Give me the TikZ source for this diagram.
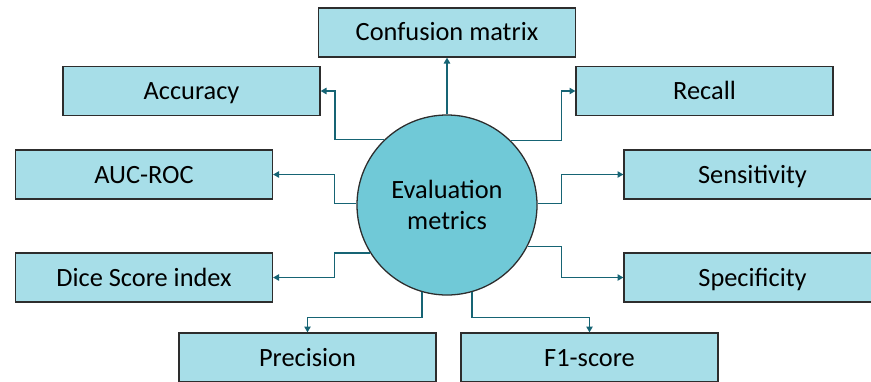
\documentclass[tikz,border=0pt]{standalone}
\usepackage[RGB]{xcolor}
\usepackage{fontspec}
\setmainfont{Carlito}
\usepackage{tikz}
\usetikzlibrary{arrows.meta}
\definecolor{boxfill}{RGB}{167,222,232}
\definecolor{ringfill}{RGB}{112,201,215}
\definecolor{edge}{RGB}{45,45,45}
\definecolor{link}{RGB}{22,100,116}
\tikzset{
  metricbox/.style={draw=edge, line width=1.1pt, fill=boxfill, minimum width=7.71cm,
    minimum height=1.47cm, inner sep=0pt, text height=16.5pt, text depth=2pt,
    font=\fontsize{22.5}{27}\selectfont},
  hub/.style={circle, draw=edge, line width=1.1pt, fill=ringfill, minimum size=5.4cm,
    inner sep=0pt, align=center, font=\fontsize{22.5}{27}\selectfont},
  conn/.style={draw=link, line width=1pt, -{Triangle[width=5.5pt,length=5pt]}}
}
\newcommand{\metric}[4]{\node[metricbox] (#1) at (#2,#3) {#4};}
\begin{document}
\begin{tikzpicture}[x=0.03cm,y=-0.03cm]
\useasboundingbox (0,0) rectangle (871,381);
\node[hub] (ev) at (447,205) {Evaluation\\metrics};
\metric{conf}{447}{32.5}{Confusion matrix}
\metric{acc}{191.5}{91}{Accuracy}
\metric{rec}{704.5}{91}{Recall}
\metric{auc}{144}{174.5}{AUC-ROC}
\metric{sens}{752.5}{174.5}{Sensitivity}
\metric{dice}{144}{277.5}{Dice Score index}
\metric{spec}{752.5}{277.5}{Specificity}
\metric{prec}{307.5}{357.5}{Precision}
\metric{fone}{589.5}{357.5}{F1-score}
% links from the hub
\draw[conn] (ev.north) -- (conf.south);
\draw[conn] (ev.134) -- ++(-49,0) |- (acc.east);
\draw[conn] (ev.45) -- ++(50,0) |- (rec.west);
\draw[conn] (ev.179) -- ++(-22,0) |- (auc.east);
\draw[conn] (ev.1) -- ++(24,0) |- (sens.west);
\draw[conn] (ev.212) -- ++(-36,0) |- (dice.east);
\draw[conn] (ev.333) -- ++(34,0) |- (spec.west);
\draw[conn] (ev.254) -- ++(0,25) -| (prec.north);
\draw[conn] (ev.286) -- ++(0,25) -| (fone.north);
\end{tikzpicture}
\end{document}
